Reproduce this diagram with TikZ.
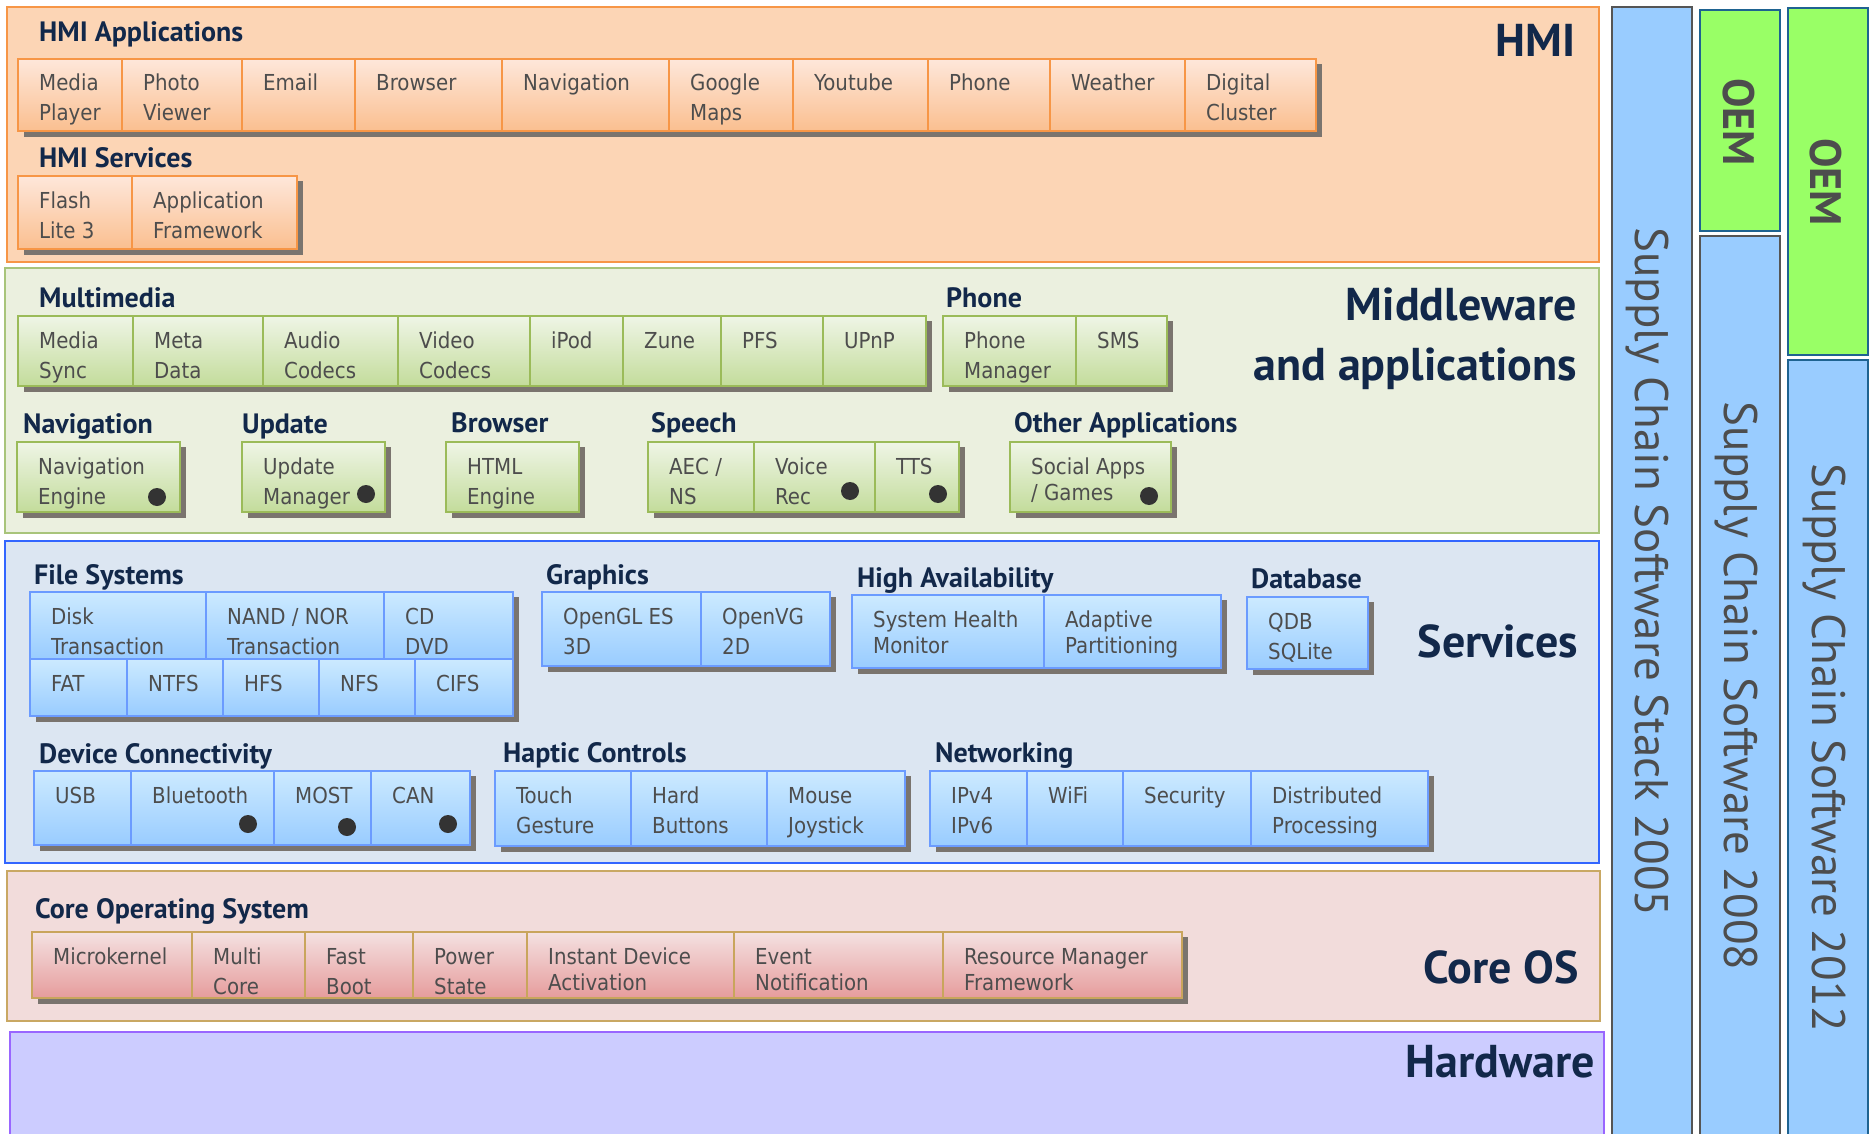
\documentclass[tikz,border=0pt]{standalone}
\usepackage{fontspec}
\setmainfont{DejaVu Sans}
\newfontfamily\boxfont{DejaVu Sans Condensed}
\newfontfamily\headfont{PT Sans}
\definecolor{hmiF}{HTML}{FCD5B5}
\definecolor{hmiB}{HTML}{F79646}
\definecolor{hmiT}{HTML}{FEE7DA}
\definecolor{hmiBt}{HTML}{FABF90}
\definecolor{mwF}{HTML}{EBF0DF}
\definecolor{mwB}{HTML}{A8C47A}
\definecolor{mwC}{HTML}{9BBB59}
\definecolor{mwT}{HTML}{EFF5E6}
\definecolor{mwBt}{HTML}{C3DC9B}
\definecolor{svF}{HTML}{DCE6F2}
\definecolor{svB}{HTML}{3366FF}
\definecolor{svC}{HTML}{6B9BFF}
\definecolor{svT}{HTML}{CCEAFF}
\definecolor{svBt}{HTML}{99CCFF}
\definecolor{coF}{HTML}{F2DCDB}
\definecolor{coB}{HTML}{C9A863}
\definecolor{coC}{HTML}{C9A55C}
\definecolor{coT}{HTML}{F4E1E1}
\definecolor{coBt}{HTML}{E69C9C}
\definecolor{hwF}{HTML}{CCCCFF}
\definecolor{hwB}{HTML}{9966FF}
\definecolor{colBlue}{HTML}{99CCFF}
\definecolor{colGrayB}{HTML}{555555}
\definecolor{colTealB}{HTML}{1F6391}
\definecolor{oemG}{HTML}{99FF66}
\definecolor{shadowC}{HTML}{7A746E}
\definecolor{dotC}{HTML}{333333}
\definecolor{navy}{HTML}{12284A}
\definecolor{txtGray}{HTML}{4D4D4D}
\tikzset{
  band/.style={line width=2pt},
  cellbox/.style={line width=2.5pt, inner sep=0pt, outer sep=0pt, anchor=north west},
  chmi/.style={cellbox, draw=hmiB, top color=hmiT, bottom color=hmiBt},
  cmw/.style={cellbox, draw=mwC, top color=mwT, bottom color=mwBt},
  csv/.style={cellbox, draw=svC, top color=svT, bottom color=svBt},
  cco/.style={cellbox, draw=coC, top color=coT, bottom color=coBt},
  ctext/.style={font=\boxfont\fontsize{22}{30}\selectfont, text=txtGray, inner sep=0pt, anchor=base west},
  tight/.style={font=\boxfont\fontsize{22}{26}\selectfont},
  head/.style={font=\headfont\bfseries\fontsize{28}{30}\selectfont, text=navy, inner sep=0pt, anchor=base west},
  layer/.style={font=\headfont\bfseries\fontsize{46}{60}\selectfont, text=navy, inner sep=0pt, anchor=base east},
  coltext/.style={font=\headfont\fontsize{47}{50}\selectfont, text=txtGray, rotate=-90, inner sep=0pt, anchor=base},
  oemtext/.style={font=\headfont\bfseries\fontsize{44}{50}\selectfont, text=txtGray, rotate=-90, inner sep=0pt, anchor=base},
  dotmark/.style={circle, fill=dotC, inner sep=0pt, minimum size=18pt},
}
\newcommand\cell[8][]{%
  \node[#2, minimum width={#6pt-#4pt}, minimum height={#7pt-#5pt}] (#3) at (#4,#5) {};
  \node[ctext,#1] (#3-t) at ([xshift=21pt,yshift=-32pt]#3.north west) {\begin{tabular}[t]{@{}l@{}}#8\end{tabular}};
}
\newcommand\grpshadow[4]{\fill[shadowC] ({#1+6},{#2+5}) rectangle ({#3+6},{#4+6});}
\begin{document}
\begin{tikzpicture}[x=1pt,y=-1pt]
\useasboundingbox (0,0) rectangle (1870,1134);
\fill[white] (0,0) rectangle (1870,1134);
% layer bands
\draw[band, draw=hmiB, fill=hmiF] (7,7) rectangle (1599,262);
\draw[band, draw=mwB, fill=mwF] (5,268) rectangle (1599,533);
\draw[band, draw=svB, fill=svF] (5,541) rectangle (1599,863);
\draw[band, draw=coB, fill=coF] (7,871) rectangle (1600,1021);
\draw[band, draw=hwB, fill=hwF] (10,1032) rectangle (1604,1140);
% columns
\draw[band, draw=colGrayB, fill=colBlue] (1612,7) rectangle (1692,1140);
\draw[band, draw=colTealB, fill=oemG] (1700,10) rectangle (1780,231);
\draw[band, draw=colGrayB, fill=colBlue] (1700,236) rectangle (1780,1140);
\draw[band, draw=colTealB, fill=oemG] (1788,8) rectangle (1868,355);
\draw[band, draw=colTealB, fill=colBlue] (1788,360) rectangle (1868,1140);
\node[coltext] (t05) at (1635,572) {Supply Chain Software Stack 2005};
\node[coltext] (t08) at (1724,686) {Supply Chain Software 2008};
\node[coltext] (t12) at (1812,748) {Supply Chain Software 2012};
\node[oemtext] (oem1) at (1723,122) {OEM};
\node[oemtext] (oem2) at (1810,182) {OEM};
% layer labels
\node[layer] (lHMI) at (1576,57) {HMI};
\node[layer] (lMW1) at (1577,320) {Middleware};
\node[layer] (lMW2) at (1577,380) {and applications};
\node[layer] (lSV) at (1578,657) {Services};
\node[layer] (lCO) at (1579,983) {Core OS};
\node[layer] (lHW) at (1595,1077) {Hardware};
% headings
\node[head] (hApps) at (39,42) {HMI Applications};
\node[head] (hSvc) at (39,168) {HMI Services};
\node[head] (hMM) at (39,307) {Multimedia};
\node[head] (hPh) at (946,307) {Phone};
\node[head] (hNav) at (23,433) {Navigation};
\node[head] (hUpd) at (242,433) {Update};
\node[head] (hBr) at (451,432) {Browser};
\node[head] (hSp) at (651,432) {Speech};
\node[head] (hOth) at (1014,432) {Other Applications};
\node[head] (hFS) at (34,584) {File Systems};
\node[head] (hGr) at (546,584) {Graphics};
\node[head] (hHA) at (857,587) {High Availability};
\node[head] (hDB) at (1251,588) {Database};
\node[head] (hDC) at (39,763) {Device Connectivity};
\node[head] (hHC) at (503,762) {Haptic Controls};
\node[head] (hNW) at (935,762) {Networking};
\node[head] (hCO) at (35,918) {Core Operating System};
% HMI applications
\grpshadow{18}{59}{1316}{131}
\cell{chmi}{mp}{18}{59}{122}{131}{Media\\Player}
\cell{chmi}{pv}{122}{59}{242}{131}{Photo\\Viewer}
\cell{chmi}{em}{242}{59}{355}{131}{Email}
\cell{chmi}{brw}{355}{59}{502}{131}{Browser}
\cell{chmi}{nvg}{502}{59}{669}{131}{Navigation}
\cell{chmi}{gm}{669}{59}{793}{131}{Google\\Maps}
\cell{chmi}{yt}{793}{59}{928}{131}{Youtube}
\cell{chmi}{phn}{928}{59}{1050}{131}{Phone}
\cell{chmi}{wth}{1050}{59}{1185}{131}{Weather}
\cell{chmi}{dcl}{1185}{59}{1316}{131}{Digital\\Cluster}
% HMI services
\grpshadow{18}{176}{297}{249}
\cell{chmi}{fl}{18}{176}{132}{249}{Flash\\Lite 3}
\cell{chmi}{af}{132}{176}{297}{249}{Application\\Framework}
% Multimedia
\grpshadow{18}{316}{926}{386}
\cell{cmw}{ms}{18}{316}{133}{386}{Media\\Sync}
\cell{cmw}{md}{133}{316}{263}{386}{Meta\\Data}
\cell{cmw}{ac}{263}{316}{398}{386}{Audio\\Codecs}
\cell{cmw}{vc}{398}{316}{530}{386}{Video\\Codecs}
\cell{cmw}{ipod}{530}{316}{623}{386}{iPod}
\cell{cmw}{zune}{623}{316}{721}{386}{Zune}
\cell{cmw}{pfs}{721}{316}{823}{386}{PFS}
\cell{cmw}{upnp}{823}{316}{926}{386}{UPnP}
% Phone
\grpshadow{943}{316}{1167}{386}
\cell{cmw}{pm}{943}{316}{1076}{386}{Phone\\Manager}
\cell{cmw}{sms}{1076}{316}{1167}{386}{SMS}
% middle row
\grpshadow{17}{442}{180}{512}
\cell{cmw}{ne}{17}{442}{180}{512}{Navigation\\Engine}
\grpshadow{242}{442}{385}{512}
\cell{cmw}{um}{242}{442}{385}{512}{Update\\Manager}
\grpshadow{446}{442}{579}{512}
\cell{cmw}{he}{446}{442}{579}{512}{HTML\\Engine}
\grpshadow{648}{442}{959}{512}
\cell{cmw}{aec}{648}{442}{754}{512}{AEC /\\NS}
\cell{cmw}{vr}{754}{442}{875}{512}{Voice\\Rec}
\cell{cmw}{tts}{875}{442}{959}{512}{TTS}
\grpshadow{1010}{442}{1171}{512}
\cell[tight]{cmw}{sag}{1010}{442}{1171}{512}{Social Apps\\/ Games}
% File systems
\grpshadow{30}{592}{513}{716}
\cell{csv}{disk}{30}{592}{206}{659}{Disk\\Transaction}
\cell{csv}{nand}{206}{592}{384}{659}{NAND / NOR\\Transaction}
\cell{csv}{cd}{384}{592}{513}{659}{CD\\DVD}
\cell{csv}{fat}{30}{659}{127}{716}{FAT}
\cell{csv}{ntfs}{127}{659}{223}{716}{NTFS}
\cell{csv}{hfs}{223}{659}{319}{716}{HFS}
\cell{csv}{nfs}{319}{659}{415}{716}{NFS}
\cell{csv}{cifs}{415}{659}{513}{716}{CIFS}
% Graphics
\grpshadow{542}{592}{830}{666}
\cell{csv}{ogl}{542}{592}{701}{666}{OpenGL ES\\3D}
\cell{csv}{ovg}{701}{592}{830}{666}{OpenVG\\2D}
% High availability
\grpshadow{852}{595}{1221}{668}
\cell[tight]{csv}{shm}{852}{595}{1044}{668}{System Health\\Monitor}
\cell[tight]{csv}{ap}{1044}{595}{1221}{668}{Adaptive\\Partitioning}
% Database
\grpshadow{1247}{597}{1368}{669}
\cell{csv}{qdb}{1247}{597}{1368}{669}{QDB\\SQLite}
% Device connectivity
\grpshadow{34}{771}{470}{845}
\cell{csv}{usb}{34}{771}{131}{845}{USB}
\cell{csv}{bt}{131}{771}{274}{845}{Bluetooth}
\cell{csv}{most}{274}{771}{371}{845}{MOST}
\cell{csv}{can}{371}{771}{470}{845}{CAN}
% Haptic
\grpshadow{495}{771}{905}{846}
\cell{csv}{tg}{495}{771}{631}{846}{Touch\\Gesture}
\cell{csv}{hb}{631}{771}{767}{846}{Hard\\Buttons}
\cell{csv}{mj}{767}{771}{905}{846}{Mouse\\Joystick}
% Networking
\grpshadow{930}{771}{1428}{846}
\cell{csv}{ip}{930}{771}{1027}{846}{IPv4\\IPv6}
\cell{csv}{wifi}{1027}{771}{1123}{846}{WiFi}
\cell{csv}{sec}{1123}{771}{1251}{846}{Security}
\cell{csv}{dp}{1251}{771}{1428}{846}{Distributed\\Processing}
% Core OS
\grpshadow{32}{932}{1182}{998}
\cell{cco}{mk}{32}{932}{192}{998}{Microkernel}
\cell{cco}{mc}{192}{932}{305}{998}{Multi\\Core}
\cell{cco}{fb}{305}{932}{413}{998}{Fast\\Boot}
\cell{cco}{ps}{413}{932}{527}{998}{Power\\State}
\cell[tight]{cco}{ida}{527}{932}{734}{998}{Instant Device\\Activation}
\cell[tight]{cco}{evn}{734}{932}{943}{998}{Event\\Notification}
\cell[tight]{cco}{rmf}{943}{932}{1182}{998}{Resource Manager\\Framework}
% dots
\node[dotmark] (dNE) at (157,497) {};
\node[dotmark] (dUM) at (366,494) {};
\node[dotmark] (dVR) at (850,491) {};
\node[dotmark] (dTT) at (938,494) {};
\node[dotmark] (dSA) at (1149,496) {};
\node[dotmark] (dBT) at (248,824) {};
\node[dotmark] (dMO) at (347,827) {};
\node[dotmark] (dCA) at (448,824) {};
\end{tikzpicture}
\end{document}
